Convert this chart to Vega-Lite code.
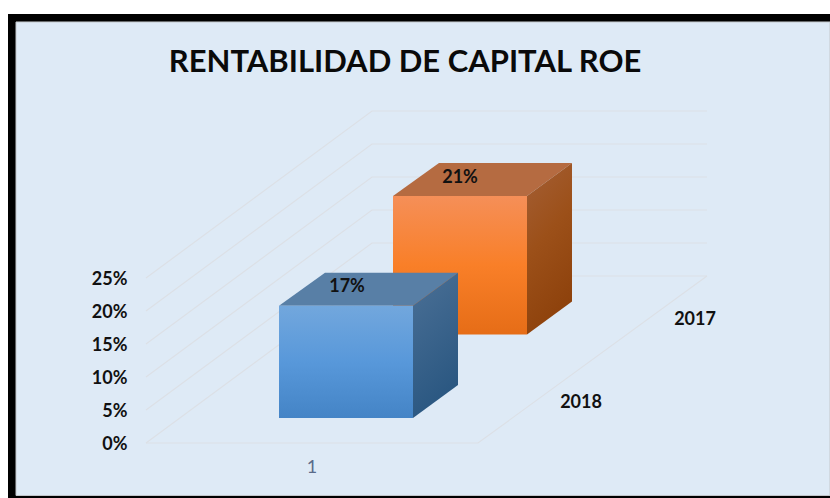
{
"$schema":"https://vega.github.io/schema/vega-lite/v6.json",
"width":830,"height":498,"autosize":"none","padding":0,"background":"#ffffff",
"title":{"text":"RENTABILIDAD DE CAPITAL ROE","font":"Lato","fontSize":31,"fontWeight":"bold","color":"#0a0a0a","anchor":"middle","frame":"group","baseline":"alphabetic","offset":0,"dx":-10,"dy":103},
"config":{"view":{"stroke":null}},
"datasets":{
"panel":[{"part":"frame","x":8,"x2":830,"v":65,"v2":-8.333},{"part":"inner","x":16,"x2":830,"v":63.79,"v2":-7.95}],
"faces":[
{"series":"2017","face":"front","x":393,"x2":527,"v":37.44,"v2":16.44},
{"series":"2017","face":"top","x":393,"x2":527,"v":37.44},
{"series":"2017","face":"top","x":439,"x2":572,"v":42.44},
{"series":"2017","face":"side","x":527,"v":37.44,"v2":16.44},
{"series":"2017","face":"side","x":572,"v":42.44,"v2":21.44},
{"series":"2018","face":"front","x":279,"x2":413,"v":20.79,"v2":3.79},
{"series":"2018","face":"top","x":279,"x2":413,"v":20.79},
{"series":"2018","face":"top","x":325,"x2":458,"v":25.79},
{"series":"2018","face":"side","x":413,"v":20.79,"v2":3.79},
{"series":"2018","face":"side","x":458,"v":25.79,"v2":8.79}
],
"grid":[
{"line":"f","o":1,"x":146,"v":0},{"line":"f","o":2,"x":478,"v":0},{"line":"f","o":3,"x":707,"v":25.3},
{"line":"0","o":1,"x":146,"v":0},{"line":"0","o":2,"x":372,"v":25.3},{"line":"0","o":3,"x":707,"v":25.3},
{"line":"5","o":1,"x":146,"v":5},{"line":"5","o":2,"x":372,"v":30.3},{"line":"5","o":3,"x":707,"v":30.3},
{"line":"10","o":1,"x":146,"v":10},{"line":"10","o":2,"x":372,"v":35.3},{"line":"10","o":3,"x":707,"v":35.3},
{"line":"15","o":1,"x":146,"v":15},{"line":"15","o":2,"x":372,"v":40.3},{"line":"15","o":3,"x":707,"v":40.3},
{"line":"20","o":1,"x":146,"v":20},{"line":"20","o":2,"x":372,"v":45.3},{"line":"20","o":3,"x":707,"v":45.3},
{"line":"25","o":1,"x":146,"v":25},{"line":"25","o":2,"x":372,"v":50.3},{"line":"25","o":3,"x":707,"v":50.3}
],
"labels":[
{"kind":"value","label":"21%","x":460,"v":40.2},
{"kind":"value","label":"17%","x":347,"v":23.7},
{"kind":"series","label":"2018","x":581,"v":6.1},
{"kind":"series","label":"2017","x":695,"v":18.65},
{"kind":"cat","label":"1","x":312,"v":-3.85}
]
},
"data":{"name":"faces"},
"encoding":{
"x":{"field":"x","type":"quantitative","scale":{"domain":[0,830],"nice":false,"zero":false},"axis":null},
"y":{"field":"v","type":"quantitative","scale":{"domain":[-8.333,67.12],"nice":false,"zero":false},
"axis":{"values":[0,5,10,15,20,25],"labelExpr":"datum.value+'%'","orient":"left","offset":-129,"domain":false,"ticks":false,"grid":false,"title":null,"labelFont":"Lato","labelFontWeight":"bold","labelFontSize":18,"labelColor":"#111111","labelPadding":2,"labelOffset":1.5,"zindex":1}}
},
"layer":[
{"data":{"name":"panel"},"transform":[{"filter":"datum.part=='frame'"}],"mark":{"type":"rect","color":"#000000"},"encoding":{"x2":{"field":"x2"},"y2":{"field":"v2"}}},
{"data":{"name":"panel"},"transform":[{"filter":"datum.part=='inner'"}],"mark":{"type":"rect","color":"#DEEAF6","stroke":"#c4c8cc","strokeWidth":1},"encoding":{"x2":{"field":"x2"},"y2":{"field":"v2"}}},
{"data":{"name":"grid"},"mark":{"type":"line","color":"#DCE0E6","strokeWidth":1.2},"encoding":{"detail":{"field":"line"},"order":{"field":"o"}}},
{"transform":[{"filter":"datum.series=='2017'&&datum.face=='top'"}],"mark":{"type":"area","orient":"horizontal","color":"#B56B41"},"encoding":{"x2":{"field":"x2"}}},
{"transform":[{"filter":"datum.series=='2017'&&datum.face=='side'"}],"mark":{"type":"area","color":{"gradient":"linear","x1":0,"y1":0,"x2":0.3,"y2":1,"stops":[{"offset":0,"color":"#A45F36"},{"offset":0.5,"color":"#9C5019"},{"offset":1,"color":"#8E420C"}]}},"encoding":{"y2":{"field":"v2"}}},
{"transform":[{"filter":"datum.series=='2017'&&datum.face=='front'"}],"mark":{"type":"rect","color":{"gradient":"linear","x1":0,"y1":0,"x2":0,"y2":1,"stops":[{"offset":0,"color":"#F58F58"},{"offset":0.5,"color":"#F97F28"},{"offset":1,"color":"#E66D17"}]}},"encoding":{"x2":{"field":"x2"},"y2":{"field":"v2"}}},
{"transform":[{"filter":"datum.series=='2018'&&datum.face=='top'"}],"mark":{"type":"area","orient":"horizontal","color":"#587FA6"},"encoding":{"x2":{"field":"x2"}}},
{"transform":[{"filter":"datum.series=='2018'&&datum.face=='side'"}],"mark":{"type":"area","color":{"gradient":"linear","x1":0,"y1":0,"x2":0.3,"y2":1,"stops":[{"offset":0,"color":"#4B7096"},{"offset":1,"color":"#2A5781"}]}},"encoding":{"y2":{"field":"v2"}}},
{"transform":[{"filter":"datum.series=='2018'&&datum.face=='front'"}],"mark":{"type":"rect","color":{"gradient":"linear","x1":0,"y1":0,"x2":0,"y2":1,"stops":[{"offset":0,"color":"#72A7DD"},{"offset":0.5,"color":"#5898DA"},{"offset":1,"color":"#4484C6"}]}},"encoding":{"x2":{"field":"x2"},"y2":{"field":"v2"}}},
{"data":{"name":"labels"},"transform":[{"filter":"datum.kind!='cat'"}],"mark":{"type":"text","font":"Lato","fontWeight":"bold","fontSize":18,"color":"#111111"},"encoding":{"text":{"field":"label"}}},
{"data":{"name":"labels"},"transform":[{"filter":"datum.kind=='cat'"}],"mark":{"type":"text","font":"Lato","fontSize":18,"color":"#5A6B8A"},"encoding":{"text":{"field":"label"}}}
]
}
